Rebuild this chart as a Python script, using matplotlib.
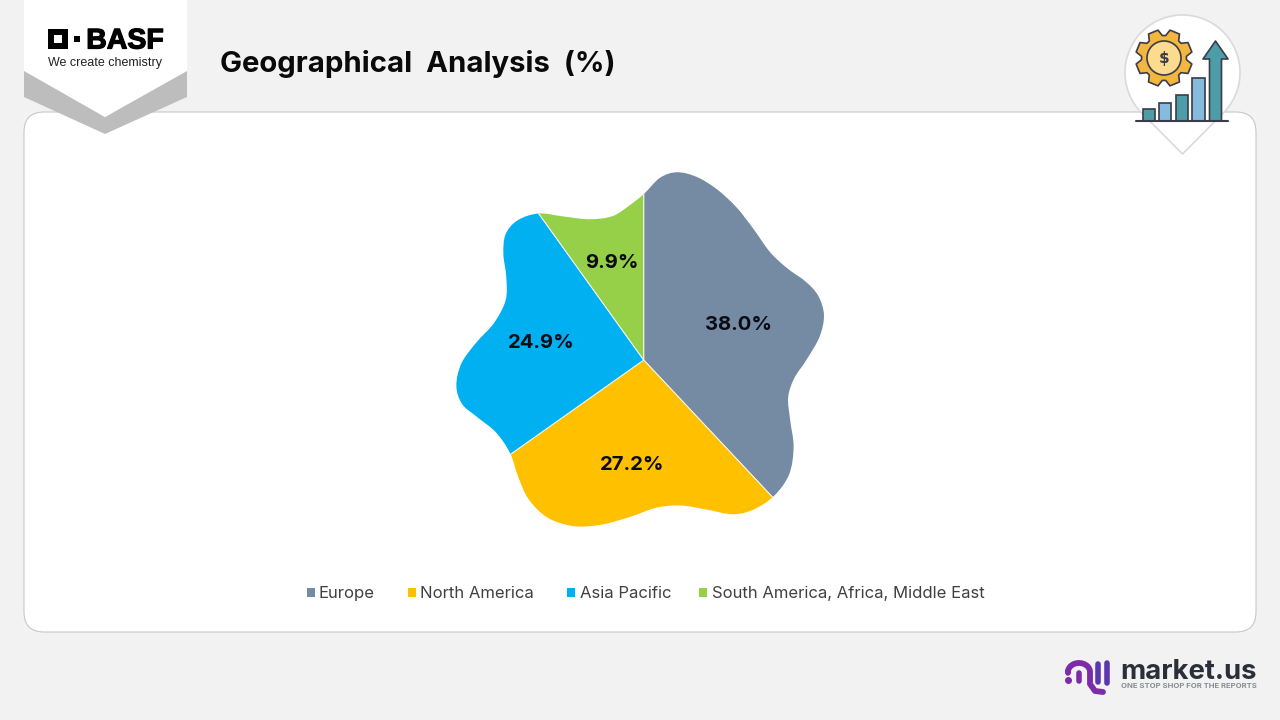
import numpy as np
import matplotlib
matplotlib.use("Agg")
import matplotlib.pyplot as plt
import matplotlib.patheffects as pe
from matplotlib.path import Path
from matplotlib.patches import Polygon, Rectangle, Circle, FancyBboxPatch

regions = ["Europe", "North America", "Asia Pacific", "South America, Africa, Middle East"]
shares = [38.0, 27.2, 24.9, 9.9]
colors = ["#748BA3", "#FFC000", "#00B0F0", "#96CF48"]
title_text = "Geographical  Analysis  (%)"

BG = "#F2F2F2"
fig = plt.figure(figsize=(12.8, 7.2), dpi=100, facecolor=BG)
ax = fig.add_axes([0, 0, 1, 1])
Y = lambda y: 720 - y


def setup():
    ax.set_xlim(0, 1280)
    ax.set_ylim(0, 720)
    ax.set_aspect("auto")
    ax.axis("off")


def smooth_closed(points):
    p = np.array(points, float)
    p = (np.roll(p, 1, axis=0) + 6 * p + np.roll(p, -1, axis=0)) / 8
    n = len(p)
    verts = [p[0]]
    codes = [Path.MOVETO]
    for i in range(n):
        p0, p1, p2, p3 = p[i - 1], p[i], p[(i + 1) % n], p[(i + 2) % n]
        verts += [p1 + (p2 - p0) / 6, p2 - (p3 - p1) / 6, p2]
        codes += [Path.CURVE4] * 3
    return Path(verts, codes)


# decorative outline of the pie, traced in a 3x crop anchored at (440, 160)
blob = [(611,105),(660,48),(710,33),(770,48),(830,85),(890,140),(940,205),(990,280),(1040,325),
        (1100,365),(1137,405),(1156,465),(1142,530),(1100,600),(1060,655),(1041,710),(1050,780),
        (1064,860),(1052,945),(1005,1010),(940,1052),(880,1067),(800,1048),(720,1034),(650,1040),
        (570,1072),(480,1097),(400,1102),(320,1077),(263,1020),(233,950),(213,878),(170,815),
        (110,770),(63,735),(45,680),(60,610),(105,550),(165,490),(202,420),(200,350),(188,280),
        (193,220),(230,178),(295,156),(370,170),(450,180),(520,172),(570,135)]
blob_px = [(x / 3 + 440, Y(y / 3 + 160)) for x, y in blob]
blob_path = smooth_closed(blob_px)

# card
ax.add_patch(FancyBboxPatch((24 + 20, Y(632) + 20), 1232 - 40, 520 - 40,
                            boxstyle="round,pad=20,rounding_size=20",
                            fc="white", ec="#C8C8C8", lw=0.8, zorder=1))

# pie clipped to the blob
wedges, _ = ax.pie(shares, colors=colors, startangle=90, counterclock=False,
                   center=(643.7, Y(360)), radius=320, frame=False,
                   wedgeprops=dict(edgecolor="#F4F7F0", linewidth=0.7, zorder=2))
for w in wedges:
    w.set_clip_on(True)
    w.set_clip_path(blob_path, ax.transData)
setup()

# value labels
label_pos = [(739, 323), (632.5, 463), (541.5, 342), (612, 262)]
for v, (x, y) in zip(shares, label_pos):
    ax.text(x, Y(y + 1.5), f"{v:.1f}%", ha="center", va="center", family="Inter",
            fontweight="bold", fontsize=14.6, color="#0B0B14", zorder=5)

# title
ax.text(220, Y(63.5), title_text, ha="left", va="center", family="Inter",
        fontweight="bold", fontsize=21.1, color="#0A0A0A", zorder=5)

# legend
legend_square_x = [307, 408, 567, 699]
legend_text_x = [319, 420, 580, 712]
for name, c, sx, tx in zip(regions, colors, legend_square_x, legend_text_x):
    ax.add_patch(Rectangle((sx, Y(597)), 8, 9, fc=c, ec="none", zorder=5))
    ax.text(tx, Y(598), name, ha="left", va="baseline", family="Inter",
            fontsize=12, color="#404040", zorder=5)

# BASF tag
ax.add_patch(Polygon([(24, Y(70)), (24, Y(97)), (105, Y(134)), (187, Y(97)), (187, Y(70)), (105, Y(117))],
                     fc="#BDBDBD", ec="none", zorder=6))
ax.add_patch(Polygon([(24, Y(0)), (187, Y(0)), (187, Y(71)), (105, Y(117)), (24, Y(71))],
                     fc="white", ec="none", zorder=7))
ax.add_patch(Rectangle((48, Y(49)), 20, 20, fc="black", ec="none", zorder=8))
ax.add_patch(Rectangle((54, Y(43)), 8, 8, fc="white", ec="none", zorder=9))
ax.add_patch(Rectangle((74, Y(42)), 6, 6, fc="black", ec="none", zorder=8))
ax.text(125, Y(41.5), "BASF", ha="center", va="center", family="Liberation Sans",
        fontweight="bold", fontsize=20.5, color="black", zorder=8,
        path_effects=[pe.withStroke(linewidth=0.9, foreground="black")])
ax.text(105.5, Y(63), "We create chemistry", ha="center", va="center", family="Liberation Sans",
        fontsize=9, color="#222222", zorder=8)

# pin icon
cx, cy, r = 1182.5, 72.5, 57.5
tip = (1182.5, 154)
ang = np.linspace(np.deg2rad(-42), np.deg2rad(222), 80)
pin = [(cx + r * np.cos(a), Y(cy) + r * np.sin(a)) for a in ang] + [(tip[0], Y(tip[1]))]
ax.add_patch(Polygon(pin, fc="white", ec="#DADADA", lw=1.2, zorder=7, joinstyle="round"))
dark = "#3B3B4A"
teal = "#4D9DA8"
lblue = "#85BBDD"
gx, gy = 1164, 58
teeth = 8
gear = []
for k in range(teeth):
    a0 = 2 * np.pi * k / teeth + np.pi / 8
    s = 2 * np.pi / teeth
    for off, rad in [(-0.30, 22.5), (-0.17, 28.5), (0.17, 28.5), (0.30, 22.5)]:
        gear.append((gx + rad * np.cos(a0 + off * s * 1.35), Y(gy) + rad * np.sin(a0 + off * s * 1.35)))
ax.add_patch(Polygon(gear, fc="#F3B73F", ec=dark, lw=1.2, zorder=8, joinstyle="round"))
ax.add_patch(Circle((gx, Y(gy)), 17, fc="#FBDC8F", ec=dark, lw=1.2, zorder=9))
ax.text(gx, Y(gy), "$", ha="center", va="center", family="DejaVu Sans", fontweight="bold",
        fontsize=11, color=dark, zorder=10)
for x0, x1, top, c in [(1143, 1155, 109, teal), (1159, 1171, 103, lblue), (1176, 1188, 95, teal), (1192, 1205, 78, lblue)]:
    ax.add_patch(Rectangle((x0, Y(121)), x1 - x0, 121 - top, fc=c, ec=dark, lw=1.2, zorder=8))
ax.add_patch(Polygon([(1209.5, Y(121)), (1209.5, Y(59)), (1203, Y(59)), (1215.5, Y(41)), (1228, Y(59)),
                      (1221.5, Y(59)), (1221.5, Y(121))], fc=teal, ec=dark, lw=1.2, zorder=8, joinstyle="round"))
ax.plot([1136, 1228], [Y(121), Y(121)], color=dark, lw=1.5, zorder=9, solid_capstyle="round")

# market.us logo
purple = "#7B2CA6"
violet = "#5E35B1"
t = np.linspace(np.pi, 0, 30)
ax.plot([1068, 1068], [Y(673), Y(671)], color=purple, lw=4, solid_capstyle="round", zorder=5)
ax.plot(np.r_[1079 + 11 * np.cos(t), 1090, 1095, 1103],
        np.r_[Y(672) + 9 * np.sin(t), Y(684), Y(691), Y(692)],
        color=purple, lw=4.2, solid_capstyle="round", zorder=5)
ax.plot([1079, 1079], [Y(673), Y(681)], color=purple, lw=4, solid_capstyle="round", zorder=5)
ax.plot([1067.5], [Y(680)], "o", color=purple, ms=4, zorder=5)
ax.plot([1098, 1098], [Y(664), Y(682)], color=violet, lw=4, solid_capstyle="round", zorder=5)
ax.plot([1107, 1107], [Y(663), Y(683)], color=violet, lw=4, solid_capstyle="round", zorder=5)
ax.text(1120, Y(672), "market.us", ha="left", va="center", family="Inter", fontweight="bold",
        fontsize=19.8, color="#2B2F3A", zorder=5)
ax.text(1121, Y(686.5), "ONE STOP SHOP FOR THE REPORTS", ha="left", va="center", family="Inter",
        fontweight="bold", fontsize=5.55, color="#8A8D93", zorder=5)

setup()
fig.savefig("out.png", dpi=100, facecolor=BG)
